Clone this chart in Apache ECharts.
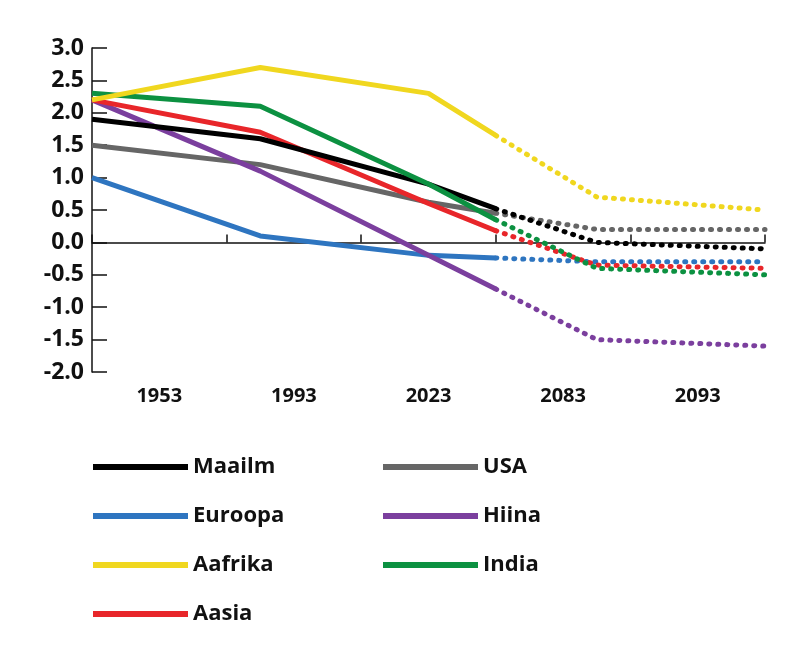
<!DOCTYPE html>
<html><head><meta charset="utf-8">
<script src="https://cdn.jsdelivr.net/npm/echarts@6/dist/echarts.min.js"></script>
<style>html,body{margin:0;background:#fff}#c{width:800px;height:662px}</style>
</head><body><div id="c"></div>
<script>
var myChart = echarts.init(document.getElementById('c'));

var xLabels = ['1953', '1993', '2023', '2083', '2093'];
// positions of points along the band axis (0..5)
var xPos = [0, 1.25, 2.5, 3, 3.75, 5];

var names = ['Maailm', 'USA', 'Euroopa', 'Hiina', 'Aafrika', 'India', 'Aasia'];
var colors = ['#000000', '#666666', '#2e75c0', '#7b3f9e', '#f0d71f', '#0c9141', '#e8262a'];
var maailm  = [1.9, 1.6, 0.9, 0.52, 0.0, -0.1];
var usa     = [1.5, 1.2, 0.62, 0.45, 0.2, 0.2];
var euroopa = [1.0, 0.1, -0.2, -0.24, -0.3, -0.3];
var hiina   = [2.2, 1.1, -0.2, -0.72, -1.5, -1.6];
var aafrika = [2.2, 2.7, 2.3, 1.65, 0.7, 0.5];
var india   = [2.3, 2.1, 0.9, 0.35, -0.4, -0.5];
var aasia   = [2.2, 1.7, 0.6, 0.18, -0.35, -0.4];
var values = [maailm, usa, euroopa, hiina, aafrika, india, aasia];

function pts(v, from, to) {
    var out = [];
    for (var i = from; i <= to; i++) out.push([xPos[i], v[i]]);
    return out;
}

var series = [];
var order = [2, 1, 3, 6, 0, 5, 4];
order.forEach(function (k) {
    series.push({
        name: names[k], type: 'line', data: pts(values[k], 0, 3),
        symbol: 'none', lineStyle: {color: colors[k], width: 5}, itemStyle: {color: colors[k]}
    });
    series.push({
        name: names[k], type: 'line', data: pts(values[k], 3, 5),
        symbol: 'none', lineStyle: {color: colors[k], width: 5, type: [1, 8], cap: 'round'},
        itemStyle: {color: colors[k]}
    });
});

var legendText = {fontSize: 22, fontWeight: 'bold', color: '#111', fontFamily: 'Open Sans'};
var option = {
    backgroundColor: '#fff',
    grid: {left: 92, right: 35, top: 48, bottom: 290},
    xAxis: [{
        type: 'value', min: 0, max: 5, interval: 1, position: 'bottom',
        axisLine: {show: true, lineStyle: {color: '#111', width: 1.5}},
        axisTick: {show: true, inside: true, length: 8, lineStyle: {color: '#111', width: 1.5}},
        axisLabel: {show: false}, splitLine: {show: false}
    }, {
        type: 'category', data: xLabels, boundaryGap: true, position: 'bottom',
        axisLine: {show: false}, axisTick: {show: false},
        axisLabel: {fontSize: 20, fontWeight: 'bold', color: '#111', fontFamily: 'Open Sans', margin: 14}
    }],
    yAxis: {
        type: 'value', min: -2, max: 3, interval: 0.5,
        axisLine: {show: true, lineStyle: {color: '#111', width: 1.5}},
        axisTick: {show: true, inside: true, length: 15, lineStyle: {color: '#111', width: 1.5}},
        splitLine: {show: false},
        axisLabel: {fontSize: 23, fontWeight: 'bold', color: '#111', fontFamily: 'Open Sans', margin: 8,
            formatter: function (v) { return v.toFixed(1); }}
    },
    legend: [{
        orient: 'vertical', left: 88, top: 451, itemGap: 27, itemWidth: 95, itemHeight: 6,
        icon: 'rect', textStyle: legendText,
        data: ['Maailm', 'Euroopa', 'Aafrika', 'Aasia']
    }, {
        orient: 'vertical', left: 378, top: 451, itemGap: 27, itemWidth: 95, itemHeight: 6,
        icon: 'rect', textStyle: legendText,
        data: ['USA', 'Hiina', 'India']
    }],
    series: series
};
myChart.setOption(option);
</script></body></html>
